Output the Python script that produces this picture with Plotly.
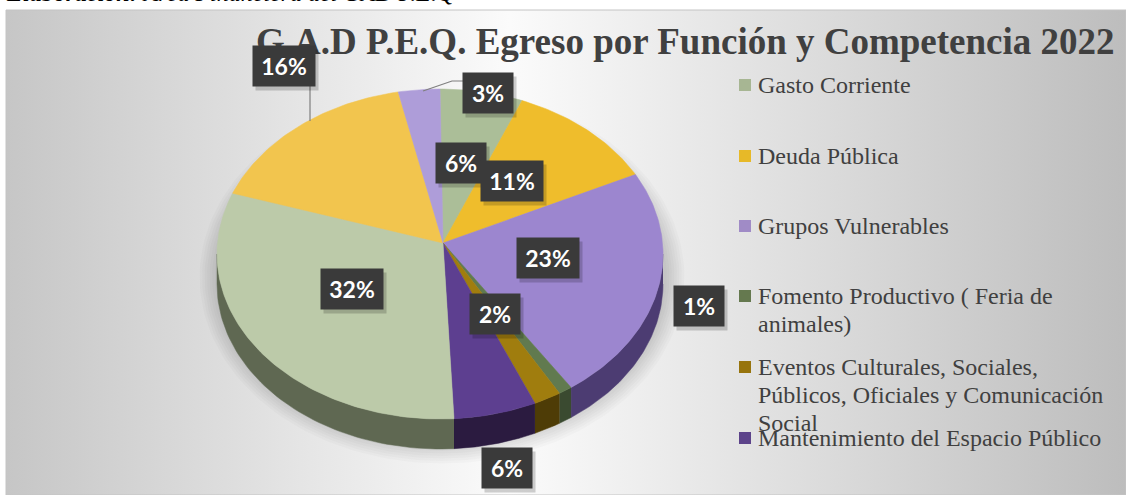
import numpy as np
import plotly.graph_objects as go

# ---------------- data ----------------
categories = [
    "Gasto Corriente",
    "Deuda Pública",
    "Grupos Vulnerables",
    "Fomento Productivo ( Feria de animales)",
    "Eventos Culturales, Sociales, Públicos, Oficiales y Comunicación Social",
    "Mantenimiento del Espacio Público",
    "Serie 7",
    "Serie 8",
    "Serie 9",
]
percentages = [6, 11, 23, 1, 2, 6, 32, 16, 3]
legend_lines = [
    ["Gasto Corriente"],
    ["Deuda Pública"],
    ["Grupos Vulnerables"],
    ["Fomento Productivo ( Feria de", "animales)"],
    ["Eventos Culturales, Sociales,", "Públicos, Oficiales y Comunicación", "Social"],
    ["Mantenimiento del Espacio Público"],
]
title_text = "G.A.D P.E.Q. Egreso por Función y Competencia 2022"
caption_text = "<b><i>Elaboración:</i></b><i> Área Financiera del GAD P.E.Q</i>"

# ---------------- styles / layout ----------------
top_colors = ["#abbe98", "#efbd2c", "#9c86cf", "#617a4f", "#a07d0e",
              "#5d3f90", "#bccaa9", "#f2c54e", "#ae9dd9"]
side_colors = ["#5d6850", "#6e5410", "#4c3c72", "#3a4a30", "#4e3c06",
               "#2b1b40", "#5f6852", "#7a6020", "#5a4c7a"]
legend_colors = ["#a7b693", "#e7b928", "#a08bc6", "#65794f", "#97740d", "#5c438a"]

W, H = 1126, 495
cx, cy, rx, ry, depth = 440, 254, 223, 165, 30
apex_x, apex_y = 443, 243
label_pos = [(461, 163), (512, 181), (548, 258), (699, 306), (495, 314),
             (507, 468), (352, 289), (284, 66), (488, 93)]
legend_sq_x, legend_text_x = 745, 756
legend_y = [85, 156, 226, 296, 367, 438]
line_gap = 28
serif = "Liberation Serif, Times New Roman, serif"

fig = go.Figure()

# background panel with gradient
fig.add_trace(go.Scatter(
    x=[6, W, W, 6, 6], y=[10, 10, H, H, 10], mode="lines", fill="toself",
    line=dict(color="#c4c4c4", width=1),
    fillgradient=dict(type="horizontal",
                      colorscale=[[0, "#c6c6c6"], [0.45, "#fbfbfb"], [1, "#bdbdbd"]]),
    hoverinfo="skip", showlegend=False))

# soft shadow
t = np.linspace(0, 2 * np.pi, 200)
for k in range(8):
    fig.add_trace(go.Scatter(
        x=cx + 2 + (rx + 2 + 2.5 * k) * np.sin(t),
        y=cy + depth / 2 + 8 + (ry + 4 + 2.5 * k) * np.cos(t),
        mode="lines", fill="toself", line=dict(width=0),
        fillcolor="rgba(0,0,0,0.02)", hoverinfo="skip", showlegend=False))

total = sum(percentages)
bounds = np.concatenate([[0], np.cumsum(percentages)]) / total * 360.0


def ex(th):
    return cx + rx * np.sin(np.radians(th))


def ey(th):
    return cy - ry * np.cos(np.radians(th))


# side walls (visible front half: 90..270 deg)
for i in range(len(percentages)):
    lo, hi = max(bounds[i], 90), min(bounds[i + 1], 270)
    if hi <= lo:
        continue
    th = np.linspace(lo, hi, 60)
    xs = np.concatenate([ex(th), ex(th[::-1])])
    ys = np.concatenate([ey(th), ey(th[::-1]) + depth])
    fig.add_trace(go.Scatter(x=xs, y=ys, mode="lines", fill="toself",
                             line=dict(width=0.5, color=side_colors[i]),
                             fillcolor=side_colors[i], hoverinfo="skip",
                             showlegend=False))

# top surface slices
for i in range(len(percentages)):
    th = np.linspace(bounds[i], bounds[i + 1], max(8, int(percentages[i] * 4)))
    xs = np.concatenate([[apex_x], ex(th), [apex_x]])
    ys = np.concatenate([[apex_y], ey(th), [apex_y]])
    fig.add_trace(go.Scatter(x=xs, y=ys, mode="lines", fill="toself",
                             line=dict(width=0.5, color=top_colors[i]),
                             fillcolor=top_colors[i], name=categories[i],
                             text=f"{percentages[i]}%", hoverinfo="name+text",
                             showlegend=False))

# leader lines
fig.add_trace(go.Scatter(x=[310, 310], y=[86, 121], mode="lines",
                         line=dict(color="#7f7f7f", width=1.2),
                         hoverinfo="skip", showlegend=False))
fig.add_trace(go.Scatter(x=[463, 452, 423], y=[81, 81, 91], mode="lines",
                         line=dict(color="#7f7f7f", width=1.2),
                         hoverinfo="skip", showlegend=False))

annotations = []
# title
annotations.append(dict(x=685, y=41, xref="x", yref="y", text=f"<b>{title_text}</b>",
                        showarrow=False, xanchor="center", yanchor="middle",
                        font=dict(family=serif, size=37, color="#404040")))

# data labels
for i, p in enumerate(percentages):
    lx, ly = label_pos[i]
    w = 62 if p >= 10 else 50
    annotations.append(dict(x=lx + 3, y=ly + 4, xref="x", yref="y", text=" ",
                            showarrow=False, width=w, height=40,
                            bgcolor="rgba(0,0,0,0.18)", borderpad=0))
    annotations.append(dict(x=lx, y=ly, xref="x", yref="y", text=f"<b>{p}%</b>",
                            showarrow=False, width=w, height=40,
                            bgcolor="#3a3a3a", borderpad=0,
                            font=dict(family="Lato, Open Sans, sans-serif",
                                      size=23, color="white")))

# caption (cut at the top)
annotations.append(dict(x=4, y=8, xref="x", yref="y", text=caption_text,
                        showarrow=False, xanchor="left", yanchor="bottom",
                        font=dict(family=serif, size=24, color="#000000")))

# legend
shapes = []
for i, lines in enumerate(legend_lines):
    y0 = legend_y[i]
    shapes.append(dict(type="rect", xref="x", yref="y",
                       x0=legend_sq_x - 6, x1=legend_sq_x + 6, y0=y0 - 6, y1=y0 + 6,
                       fillcolor=legend_colors[i], line=dict(width=0)))
    for j, ln in enumerate(lines):
        annotations.append(dict(x=legend_text_x, y=y0 + j * line_gap, xref="x", yref="y",
                                text=ln, showarrow=False, xanchor="left",
                                yanchor="middle",
                                font=dict(family=serif, size=24, color="#404040")))

fig.update_layout(
    width=W, height=H, margin=dict(l=0, r=0, t=0, b=0),
    paper_bgcolor="white", plot_bgcolor="white",
    xaxis=dict(range=[0, W], visible=False, fixedrange=True),
    yaxis=dict(range=[H, 0], visible=False, fixedrange=True),
    annotations=annotations, shapes=shapes, showlegend=False,
)

fig.write_html("out.html", config={"displayModeBar": False},
               post_script="document.body.style.margin='0';")
